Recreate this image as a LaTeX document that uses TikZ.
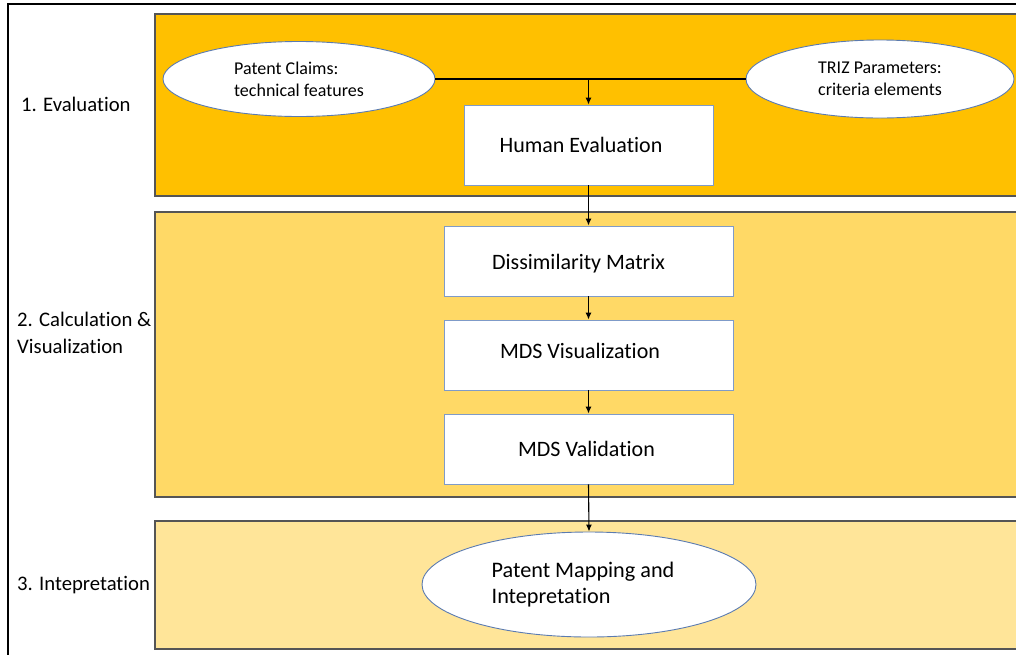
\documentclass[tikz,border=0pt]{standalone}
\usepackage{fontspec}
\setmainfont{Carlito}[Ligatures=NoCommon]
\usetikzlibrary{shapes.geometric,arrows.meta}

\definecolor{gold}{HTML}{FFC000}
\definecolor{goldmid}{HTML}{FFD966}
\definecolor{goldlight}{HTML}{FFE599}
\definecolor{bandedge}{HTML}{555555}
\definecolor{shapeedge}{HTML}{7F9BC8}
\definecolor{ellipseedge}{HTML}{5B7BB0}

% caption nudged vertically without changing its box size
\newcommand{\nudge}[2]{\raisebox{#1}[\height][\depth]{#2}}

\tikzset{
  band/.style={draw=bandedge, line width=1.3pt},
  stagelabel/.style={anchor=west, inner sep=0pt, align=left,
    font=\fontsize{20.7}{27}\selectfont},
  stepbox/.style={draw=shapeedge, line width=0.9pt, fill=white,
    inner sep=0pt, font=\fontsize{22}{26}\selectfont},
  oval/.style={ellipse, draw=ellipseedge, line width=0.9pt, fill=white,
    inner sep=0pt, align=left},
  link/.style={draw=black, line width=1.1pt},
  flow/.style={link, -{Latex[length=7pt,width=6pt]}},
}

\begin{document}
\begin{tikzpicture}[x=1pt, y=-1pt]
  \clip (0,0) rectangle (1016,654);
  \fill[white] (0,0) rectangle (1016,654);

  % outer frame
  \draw[line width=1.8pt] (8,700) -- (8,4) -- (1100,4);

  % stage bands
  \draw[band, fill=gold]      (155,14)  rectangle (1100,196);
  \draw[band, fill=goldmid]   (155,212) rectangle (1100,497);
  \draw[band, fill=goldlight] (155,521) rectangle (1100,649);

  % stage labels
  \node[stagelabel] (l1) at (21,104) {1. Evaluation};
  \node[stagelabel] (l2) at (17,333) {2. Calculation \&\\Visualization};
  \node[stagelabel] (l3) at (17,585) {3. Intepretation};

  % inputs
  \node[oval, minimum width=272pt, minimum height=75pt,
        font=\fontsize{18}{22}\selectfont] (pc) at (299,79)
        {Patent Claims:\\technical features};
  \node[oval, minimum width=268pt, minimum height=78pt,
        font=\fontsize{18}{22}\selectfont] (tp) at (880,79)
        {TRIZ Parameters:\\criteria elements};

  % process steps (captions sit a little left of centre)
  \node[stepbox, minimum width=249pt, minimum height=80pt] (he) at (588.5,145)
        {Human Evaluation\hspace*{15pt}};
  \node[stepbox, minimum width=289pt, minimum height=70pt] (dm) at (588.5,261)
        {\nudge{-3pt}{Dissimilarity Matrix}\hspace*{20pt}};
  \node[stepbox, minimum width=289pt, minimum height=70pt] (mv) at (588.5,355)
        {\nudge{4pt}{MDS Visualization}\hspace*{17pt}};
  \node[stepbox, minimum width=289pt, minimum height=70pt] (vd) at (588.5,449)
        {MDS Validation\hspace*{4pt}};

  % result
  \node[oval, minimum width=334pt, minimum height=105pt,
        font=\fontsize{22.2}{26}\selectfont] (pm) at (589,584.5)
        {Patent Mapping and\hspace*{12pt}\\Intepretation};

  % connectors
  \coordinate (j) at (he.north |- pc.east);
  \draw[link] (pc.east) -- (tp.west);
  \draw[flow] (j) -- (he.north);
  \draw[flow] (he.south) -- (dm.north);
  \draw[flow] (dm.south) -- (mv.north);
  \draw[flow] (mv.south) -- (vd.north);
  \draw[flow] (vd.south) -- (pm.north);
\end{tikzpicture}
\end{document}
